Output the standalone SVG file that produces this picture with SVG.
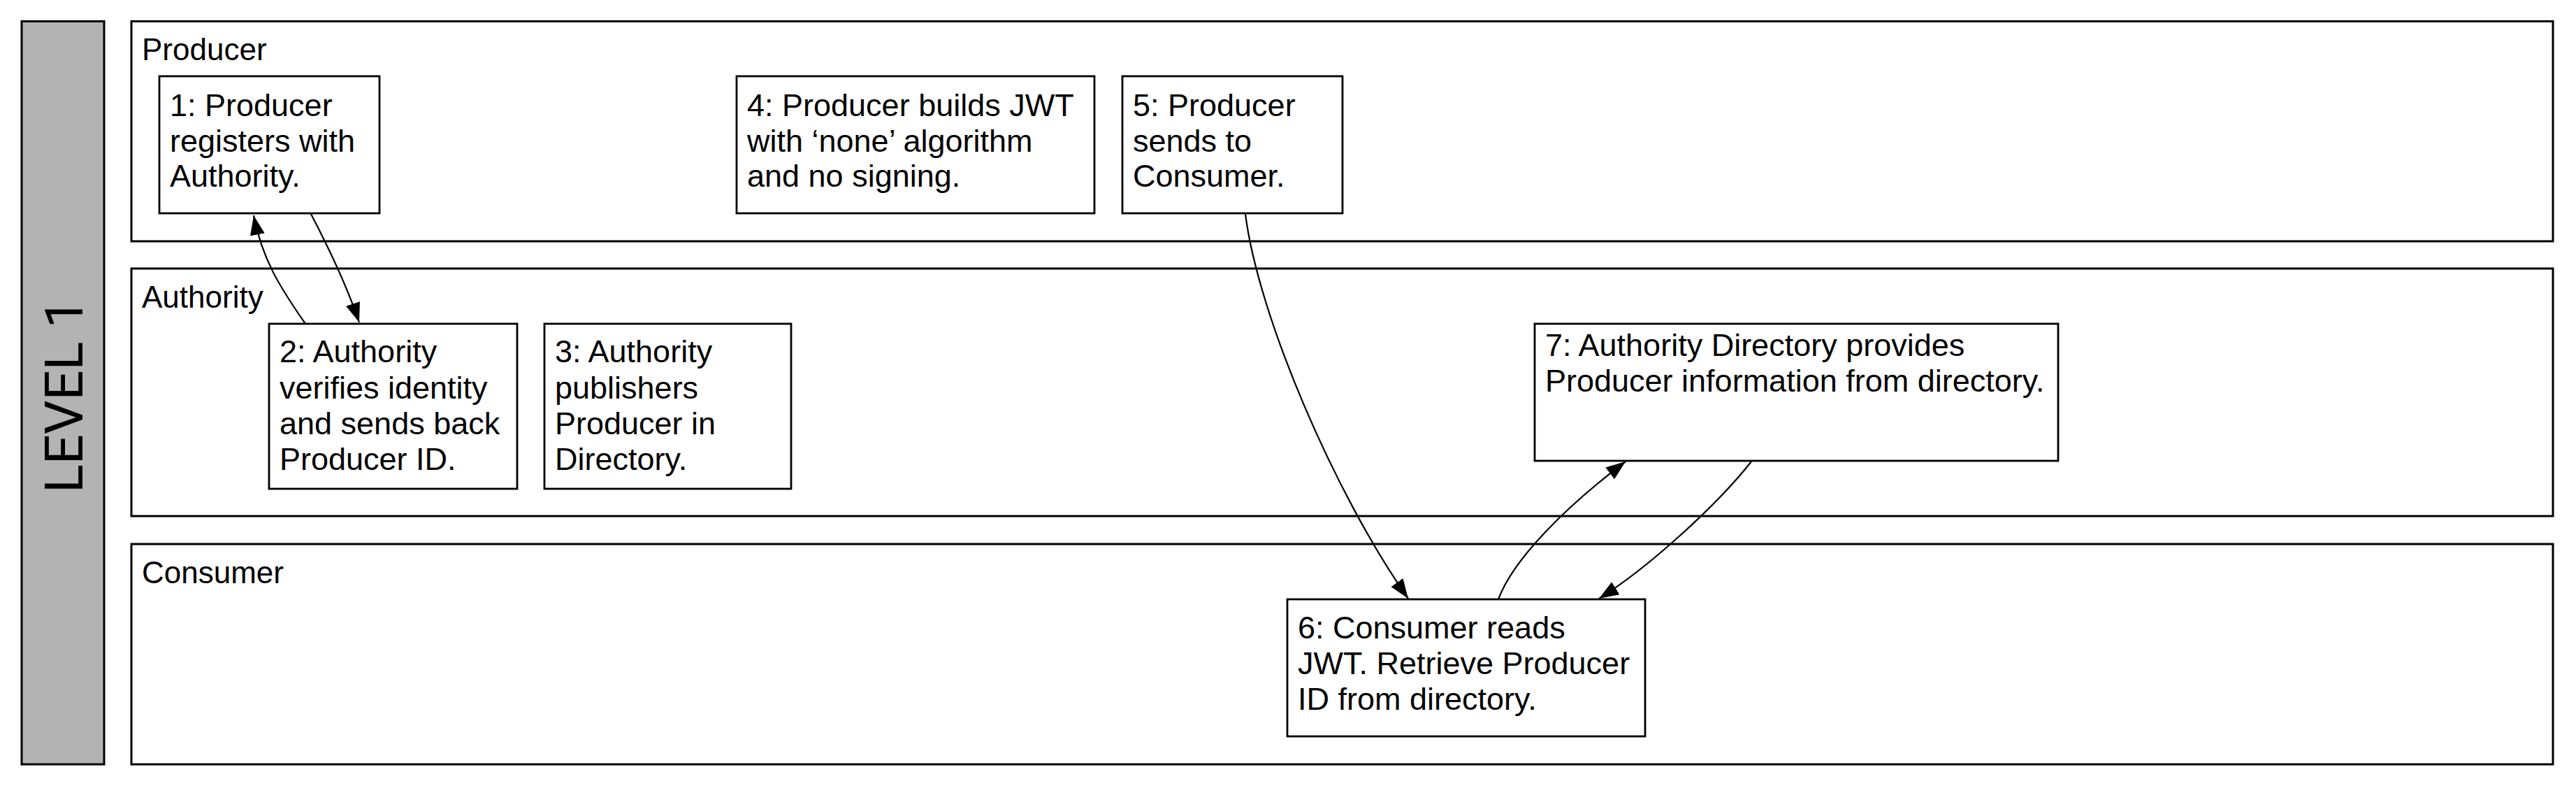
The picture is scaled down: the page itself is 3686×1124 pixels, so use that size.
<svg xmlns="http://www.w3.org/2000/svg" width="3686" height="1124" viewBox="0 0 3686 1124">
<style>
.lane{fill:#ffffff;stroke:#000;stroke-width:3}
.node{fill:#ffffff;stroke:#000;stroke-width:2.8}
.lbl{font-family:"Liberation Sans",Arial,Helvetica,sans-serif;font-size:44px;fill:#000}
.txt{font-family:"Liberation Sans",Arial,Helvetica,sans-serif;font-size:45px;fill:#000}
.edge{fill:none;stroke:#000;stroke-width:2.2}
</style>
<defs>
<marker id="arr" viewBox="0 0 28 21" refX="28" refY="10.5" markerWidth="28" markerHeight="21" markerUnits="userSpaceOnUse" orient="auto">
<path d="M0,0 L28,10.5 L0,21 Z" fill="#000"/>
</marker>
</defs>
<rect width="3686" height="1124" fill="#ffffff"/>
<g id="level">
<rect x="31" y="30.5" width="118" height="1062.5" fill="#b3b3b3" stroke="#000" stroke-width="3"/>
<text transform="translate(118,566) rotate(-90)" text-anchor="middle" style="font-family:Roboto,'Liberation Sans',sans-serif;font-weight:400;font-size:76px;fill:#000">LEVEL 1</text>
</g>
<g id="lane-producer">
<rect class="lane" x="188" y="30.5" width="3465" height="314.5"/>
<text class="lbl" x="203" y="85.5">Producer</text>
</g>
<g id="lane-authority">
<rect class="lane" x="188" y="384" width="3465" height="354"/>
<text class="lbl" x="203" y="439.5">Authority</text>
</g>
<g id="lane-consumer">
<rect class="lane" x="188" y="778" width="3465" height="315"/>
<text class="lbl" x="203" y="833.5">Consumer</text>
</g>
<g id="node1">
<rect class="node" x="228" y="109" width="315" height="196"/>
<text class="txt"><tspan x="243" y="166">1: Producer</tspan><tspan x="243" y="216.5">registers with</tspan><tspan x="243" y="267">Authority.</tspan></text>
</g>
<g id="node2">
<rect class="node" x="385" y="463" width="355" height="236"/>
<text class="txt"><tspan x="400" y="518">2: Authority</tspan><tspan x="400" y="569.5">verifies identity</tspan><tspan x="400" y="621">and sends back</tspan><tspan x="400" y="672">Producer ID.</tspan></text>
</g>
<g id="node3">
<rect class="node" x="779" y="463" width="353" height="236"/>
<text class="txt"><tspan x="794" y="518">3: Authority</tspan><tspan x="794" y="569.5">publishers</tspan><tspan x="794" y="621">Producer in</tspan><tspan x="794" y="672">Directory.</tspan></text>
</g>
<g id="node4">
<rect class="node" x="1054" y="109" width="512" height="196"/>
<text class="txt"><tspan x="1069" y="166">4: Producer builds JWT</tspan><tspan x="1069" y="216.5">with ‘none’ algorithm</tspan><tspan x="1069" y="267">and no signing.</tspan></text>
</g>
<g id="node5">
<rect class="node" x="1606" y="109" width="315" height="196"/>
<text class="txt"><tspan x="1621" y="166">5: Producer</tspan><tspan x="1621" y="216.5">sends to</tspan><tspan x="1621" y="267">Consumer.</tspan></text>
</g>
<g id="node6">
<rect class="node" x="1842" y="857" width="512" height="196"/>
<text class="txt"><tspan x="1857" y="913">6: Consumer reads</tspan><tspan x="1857" y="964">JWT. Retrieve Producer</tspan><tspan x="1857" y="1015">ID from directory.</tspan></text>
</g>
<g id="node7">
<rect class="node" x="2196" y="463" width="749" height="196"/>
<text class="txt"><tspan x="2211" y="509">7: Authority Directory provides</tspan><tspan x="2211" y="559.5">Producer information from directory.</tspan></text>
</g>
<g id="connectors">
<path class="edge" marker-end="url(#arr)" d="M445,306 C468,350 495,405 514,461"/>
<path class="edge" marker-end="url(#arr)" d="M437,463 C400,410 375,370 363,308"/>
<path class="edge" marker-end="url(#arr)" d="M1782,306 C1800,450 1909,705 2015,856"/>
<path class="edge" marker-end="url(#arr)" d="M2144,857 C2165,800 2240,725 2326,660"/>
<path class="edge" marker-end="url(#arr)" d="M2506,660 C2458,721 2360,811 2288,856"/>
</g>
</svg>
